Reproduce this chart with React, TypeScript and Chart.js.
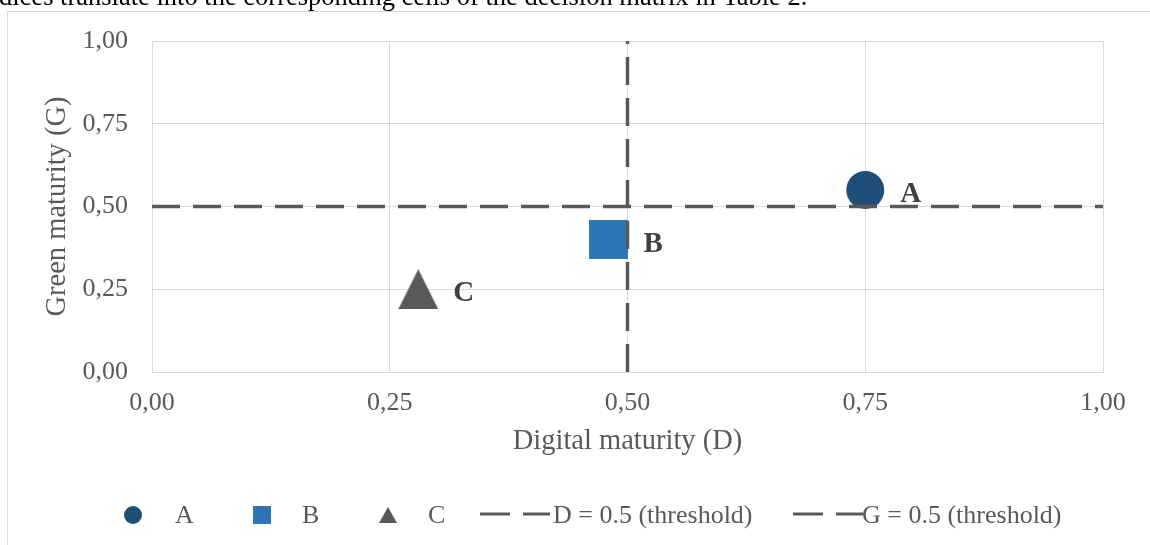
import React, { useEffect, useRef } from "react";
import { Chart, registerables } from "chart.js";

Chart.register(...registerables);

// ---- data ----
const seriesNames = ["A", "B", "C"];
const digitalMaturity = [0.75, 0.48, 0.28];
const greenMaturity = [0.55, 0.4, 0.25];
const seriesColors = ["#1F4E79", "#2E75B6", "#595959"];
const thresholdD = 0.5;
const thresholdG = 0.5;
const thresholdLabels = ["D = 0.5 (threshold)", "G = 0.5 (threshold)"];
const axisMin = 0;
const axisMax = 1;
const axisStep = 0.25;
const xTitle = "Digital maturity (D)";
const yTitle = "Green maturity (G)";
const topText = "dices translate into the corresponding cells of the decision matrix in Table 2.";

const SERIF = "'Liberation Serif', 'Times New Roman', serif";
const GREY = "#595959";

function makeTriangle(size: number, color: string) {
  const c = document.createElement("canvas");
  c.width = size;
  c.height = size;
  const g = c.getContext("2d")!;
  g.fillStyle = color;
  g.beginPath();
  g.moveTo(size / 2, 0);
  g.lineTo(size, size);
  g.lineTo(0, size);
  g.closePath();
  g.fill();
  return c;
}

function makeSquare(size: number, color: string) {
  const c = document.createElement("canvas");
  c.width = size;
  c.height = size;
  const g = c.getContext("2d")!;
  g.fillStyle = color;
  g.fillRect(0, 0, size, size);
  return c;
}

const fmt = (v: number) => v.toFixed(2).replace(".", ",");

export default function App() {
  const ref = useRef<HTMLCanvasElement | null>(null);

  useEffect(() => {
    if (!ref.current) return;
    const triangle = makeTriangle(40, seriesColors[2]);
    const square = makeSquare(39, seriesColors[1]);
    const pointStyles: any[] = ["circle", square, triangle];

    const decorPlugin = {
      id: "decor",
      beforeDraw(chart: any) {
        const ctx = chart.ctx;
        ctx.save();
        ctx.fillStyle = "#fff";
        ctx.fillRect(0, 0, chart.width, chart.height);
        ctx.fillStyle = "#000";
        ctx.font = `26.5px ${SERIF}`;
        ctx.textBaseline = "alphabetic";
        ctx.textAlign = "left";
        ctx.fillText(topText, -1, 5);
        ctx.strokeStyle = "#d9d9d9";
        ctx.lineWidth = 1;
        ctx.strokeRect(7.5, 11.5, 1400, 800);
        ctx.restore();
      },
      afterDatasetsDraw(chart: any) {
        const ctx = chart.ctx;
        const xs = chart.scales.x;
        const ys = chart.scales.y;
        ctx.save();
        ctx.fillStyle = "#404040";
        ctx.font = `bold 29px ${SERIF}`;
        ctx.textAlign = "left";
        ctx.textBaseline = "alphabetic";
        seriesNames.forEach((n, i) => {
          const px = xs.getPixelForValue(digitalMaturity[i]);
          const py = ys.getPixelForValue(greenMaturity[i]);
          ctx.fillText(n, px + 35, py + 12);
        });
        ctx.restore();
      },
      afterDraw(chart: any) {
        const ctx = chart.ctx;
        const y = 515;
        ctx.save();
        ctx.font = `26px ${SERIF}`;
        ctx.fillStyle = GREY;
        ctx.textBaseline = "middle";
        ctx.textAlign = "left";
        // A
        ctx.fillStyle = seriesColors[0];
        ctx.beginPath();
        ctx.arc(133, y, 9, 0, Math.PI * 2);
        ctx.fill();
        ctx.fillStyle = GREY;
        ctx.fillText(seriesNames[0], 175, y + 1);
        // B
        ctx.fillStyle = seriesColors[1];
        ctx.fillRect(253, y - 9, 18, 18);
        ctx.fillStyle = GREY;
        ctx.fillText(seriesNames[1], 302, y + 1);
        // C
        ctx.fillStyle = seriesColors[2];
        ctx.beginPath();
        ctx.moveTo(388, y - 8);
        ctx.lineTo(397, y + 8);
        ctx.lineTo(379, y + 8);
        ctx.closePath();
        ctx.fill();
        ctx.fillStyle = GREY;
        ctx.fillText(seriesNames[2], 428, y + 1);
        // thresholds
        ctx.strokeStyle = GREY;
        ctx.lineWidth = 3;
        const drawDash = (x0: number) => {
          ctx.beginPath();
          ctx.moveTo(x0, y - 1);
          ctx.lineTo(x0 + 30, y - 1);
          ctx.moveTo(x0 + 43, y - 1);
          ctx.lineTo(x0 + 70, y - 1);
          ctx.stroke();
        };
        drawDash(480);
        ctx.fillText(thresholdLabels[0], 553, y + 1);
        drawDash(793);
        ctx.fillText(thresholdLabels[1], 862, y + 1);
        ctx.restore();
      },
    };

    const chart = new Chart(ref.current, {
      type: "scatter",
      data: {
        datasets: [
          {
            label: thresholdLabels[0],
            type: "line",
            data: [
              { x: thresholdD, y: axisMin },
              { x: thresholdD, y: axisMax },
            ],
            borderColor: GREY,
            borderWidth: 3.5,
            borderDash: [28, 13],
            borderDashOffset: 0,
            pointRadius: 0,
            fill: false,
            order: 0,
          } as any,
          {
            label: thresholdLabels[1],
            type: "line",
            data: [
              { x: axisMin, y: thresholdG },
              { x: axisMax, y: thresholdG },
            ],
            borderColor: GREY,
            borderWidth: 3.5,
            borderDash: [28, 13],
            pointRadius: 0,
            fill: false,
            order: 0,
          } as any,
          ...seriesNames.map((n, i) => ({
            label: n,
            data: [{ x: digitalMaturity[i], y: greenMaturity[i] }],
            pointStyle: pointStyles[i],
            pointRadius: 19,
            pointHoverRadius: 19,
            backgroundColor: seriesColors[i],
            borderColor: seriesColors[i],
            borderWidth: 0,
            order: 1,
          })),
        ],
      },
      options: {
        animation: false,
        responsive: false,
        devicePixelRatio: 1,
        events: [],
        layout: { padding: { top: 41, right: 47, bottom: 73, left: 0 } },
        plugins: {
          legend: { display: false },
          tooltip: { enabled: false },
        },
        scales: {
          x: {
            type: "linear",
            min: axisMin,
            max: axisMax,
            afterFit: (s: any) => {
              s.height = 100;
            },
            ticks: {
              stepSize: axisStep,
              padding: 16,
              color: GREY,
              font: { family: SERIF, size: 26 },
              callback: (v: any) => fmt(Number(v)),
              maxRotation: 0,
            },
            grid: { color: "#d9d9d9", drawTicks: false, lineWidth: 1 },
            border: { color: "#d9d9d9" },
            title: {
              display: true,
              text: xTitle,
              color: GREY,
              font: { family: SERIF, size: 28.5 },
              padding: { top: 0, bottom: 13 },
            },
          },
          y: {
            type: "linear",
            min: axisMin,
            max: axisMax,
            afterFit: (s: any) => {
              s.width = 152;
            },
            ticks: {
              stepSize: axisStep,
              padding: 24,
              color: GREY,
              font: { family: SERIF, size: 26 },
              callback: (v: any) => fmt(Number(v)),
            },
            grid: { color: "#d9d9d9", drawTicks: false, lineWidth: 1 },
            border: { color: "#d9d9d9" },
            title: {
              display: true,
              text: yTitle,
              color: GREY,
              font: { family: SERIF, size: 28.5 },
              padding: { top: 40, bottom: 0 },
            },
          },
        },
      },
      plugins: [decorPlugin],
    });
    return () => chart.destroy();
  }, []);

  return (
    <div style={{ position: "absolute", left: 0, top: 0, width: 1150, height: 545 }}>
      <canvas ref={ref} width={1150} height={545} style={{ display: "block" }} />
    </div>
  );
}
